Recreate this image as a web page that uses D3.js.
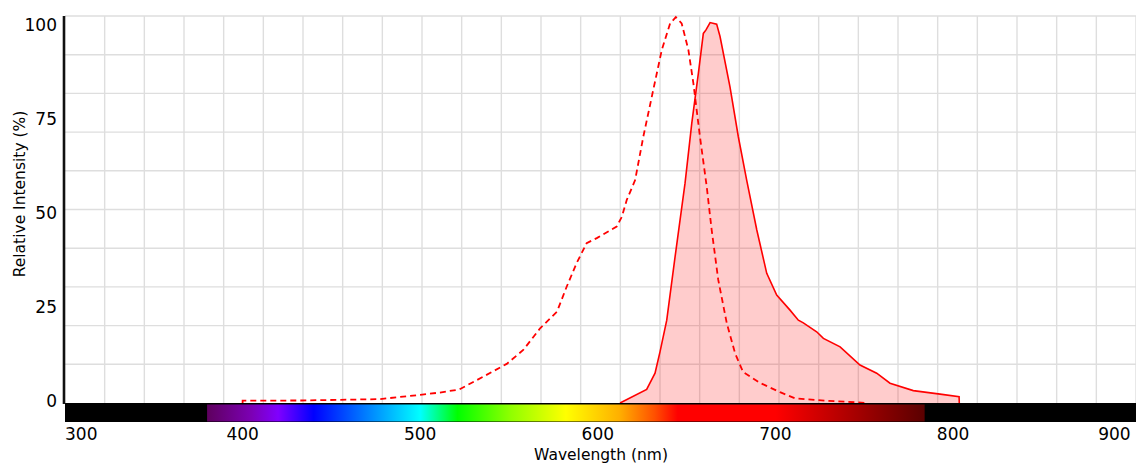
<!DOCTYPE html>
<html>
<head>
<meta charset="utf-8">
<script src="https://cdn.jsdelivr.net/npm/d3@7"></script>
<style>
  html, body { margin: 0; padding: 0; background: #fff; }
  svg { display: block; font-family: "DejaVu Sans", sans-serif; }
</style>
</head>
<body>
<svg id="chart"></svg>
<script>
// excitation (dashed) : wavelength nm / relative intensity %
const exWave = [400, 400, 433, 477, 500, 511, 522, 535.5, 548.7, 558, 567.5, 577, 582.5, 588, 593.7, 599.4, 610.6, 613.5, 616.3, 621, 625.6, 631.2, 636, 640.7, 643.9, 647.2, 651, 653.8, 657.5, 661.3, 664.1, 667.8, 672.6, 677.3, 681.8, 691.3, 702.6, 711, 728, 752]
const exValue = [0, 0.6, 0.65, 1.0, 2.1, 2.7, 3.5, 6.8, 10.1, 13.7, 19.3, 23.6, 30.1, 36.1, 41.3, 42.6, 45.6, 48.1, 52.5, 57.6, 68.8, 80.9, 91.2, 98.1, 99.7, 98.1, 91.2, 82.6, 68.8, 55.9, 44.7, 31.8, 20.6, 12.8, 8.0, 5.2, 2.8, 1.2, 0.6, 0]

// emission (solid, filled)
const emWave = [612.5, 627.5, 632.2, 635, 638.8, 643.5, 649.1, 652.9, 656.6, 659.4, 660.9, 663.2, 666.9, 668.8, 674.4, 679.1, 683.8, 689.5, 695.1, 700.7, 708.2, 712.9, 715.7, 723.2, 727, 736.4, 747.6, 757, 764.5, 777.6, 792.7, 803.4, 803.5]
const emValue = [0, 3.5, 7.7, 13.2, 21.4, 37.8, 56.8, 72.3, 85.2, 95.5, 96.4, 98.3, 97.9, 94.7, 81.7, 68.8, 57.6, 44.7, 33.5, 27.9, 24.0, 21.4, 20.7, 18.4, 16.7, 14.5, 9.8, 7.7, 5.1, 3.2, 2.3, 1.6, 0]

const xTicks = [300, 400, 500, 600, 700, 800, 900]
const yTicks = [0, 25, 50, 75, 100]

// visible spectrum colours under the axis
const spectrumWave = [380, 405, 420, 440, 470, 500, 521, 551, 582, 612, 632, 645, 700, 784]
const spectrumColor = ['#5e005e', '#7c00b4', '#8000ff', '#0000ff', '#0080ff', '#00ffff', '#00ff00', '#90ff00', '#ffff00', '#ffb000', '#ff5000', '#ff0000', '#ff0000', '#5a0000']

const width = 1136
const height = 465
const plotLeft = 65, plotRight = 1136, plotTop = 16, plotBottom = 403

const svg = d3.select('#chart')
  .attr('width', width)
  .attr('height', height)

const x = d3.scaleLinear().domain([300, 903]).range([plotLeft, plotRight])
const y = d3.scaleLinear().domain([0, 100]).range([plotBottom, plotTop])
// the tick labels sit a little off the grid in the original
const yLabel = d3.scaleLinear().domain([0, 100]).range([407, 31])

// grid
const grid = svg.append('g').attr('stroke', '#dedede').attr('stroke-width', 1.4)
grid.selectAll('.vg')
  .data(d3.range(1, 28))
  .enter().append('line')
  .attr('x1', i => plotLeft + i * (plotRight - plotLeft) / 27)
  .attr('x2', i => plotLeft + i * (plotRight - plotLeft) / 27)
  .attr('y1', plotTop)
  .attr('y2', plotBottom)
grid.selectAll('.hg')
  .data(d3.range(1, 11).map(i => i * 10))
  .enter().append('line')
  .attr('x1', plotLeft)
  .attr('x2', plotRight)
  .attr('y1', d => y(d))
  .attr('y2', d => y(d))

// emission fill + line
const emData = emWave.map((w, i) => [w, emValue[i]])
const exData = exWave.map((w, i) => [w, exValue[i]])

svg.append('path')
  .datum(emData)
  .attr('fill', 'rgba(255, 0, 0, 0.2)')
  .attr('d', d3.area().x(d => x(d[0])).y0(y(0)).y1(d => y(d[1])))

svg.append('path')
  .datum(emData)
  .attr('fill', 'none')
  .attr('stroke', '#ff0000')
  .attr('stroke-width', 1.6)
  .attr('d', d3.line().x(d => x(d[0])).y(d => y(d[1])))

svg.append('path')
  .datum(exData)
  .attr('fill', 'none')
  .attr('stroke', '#ff0000')
  .attr('stroke-width', 1.8)
  .attr('stroke-dasharray', '6,4')
  .attr('d', d3.line().x(d => x(d[0])).y(d => y(d[1])))

// spectrum bar
const defs = svg.append('defs')
const grad = defs.append('linearGradient')
  .attr('id', 'spectrum')
  .attr('gradientUnits', 'userSpaceOnUse')
  .attr('x1', x(spectrumWave[0]))
  .attr('x2', x(spectrumWave[spectrumWave.length - 1]))
  .attr('y1', 0).attr('y2', 0)
const span = spectrumWave[spectrumWave.length - 1] - spectrumWave[0]
grad.selectAll('stop')
  .data(spectrumWave)
  .enter().append('stop')
  .attr('offset', d => (d - spectrumWave[0]) / span)
  .attr('stop-color', (d, i) => spectrumColor[i])

svg.append('rect')
  .attr('x', plotLeft).attr('y', plotBottom)
  .attr('width', plotRight - plotLeft).attr('height', 19)
  .attr('fill', '#000')
svg.append('rect')
  .attr('x', x(spectrumWave[0])).attr('y', 404.5)
  .attr('width', x(spectrumWave[spectrumWave.length - 1]) - x(spectrumWave[0]))
  .attr('height', 17)
  .attr('fill', 'url(#spectrum)')

// y axis line
svg.append('line')
  .attr('x1', 64).attr('x2', 64)
  .attr('y1', plotTop).attr('y2', plotBottom + 1)
  .attr('stroke', '#111').attr('stroke-width', 2.6)

// tick labels
svg.append('g').selectAll('text')
  .data(yTicks)
  .enter().append('text')
  .attr('x', 57)
  .attr('y', d => yLabel(d))
  .attr('text-anchor', 'end')
  .attr('font-size', 17)
  .attr('fill', '#000')
  .text(d => d)

svg.append('g').selectAll('text')
  .data(xTicks)
  .enter().append('text')
  .attr('x', d => x(d))
  .attr('y', 440)
  .attr('text-anchor', (d, i) => i === 0 ? 'start' : (i === xTicks.length - 1 ? 'end' : 'middle'))
  .attr('font-size', 17)
  .attr('fill', '#000')
  .text(d => d)

// axis titles
svg.append('text')
  .attr('x', 601)
  .attr('y', 460)
  .attr('text-anchor', 'middle')
  .attr('font-size', 15.5)
  .text('Wavelength (nm)')

svg.append('text')
  .attr('transform', 'translate(25,194) rotate(-90)')
  .attr('text-anchor', 'middle')
  .attr('font-size', 15.5)
  .text('Relative Intensity (%)')
</script>
</body>
</html>
